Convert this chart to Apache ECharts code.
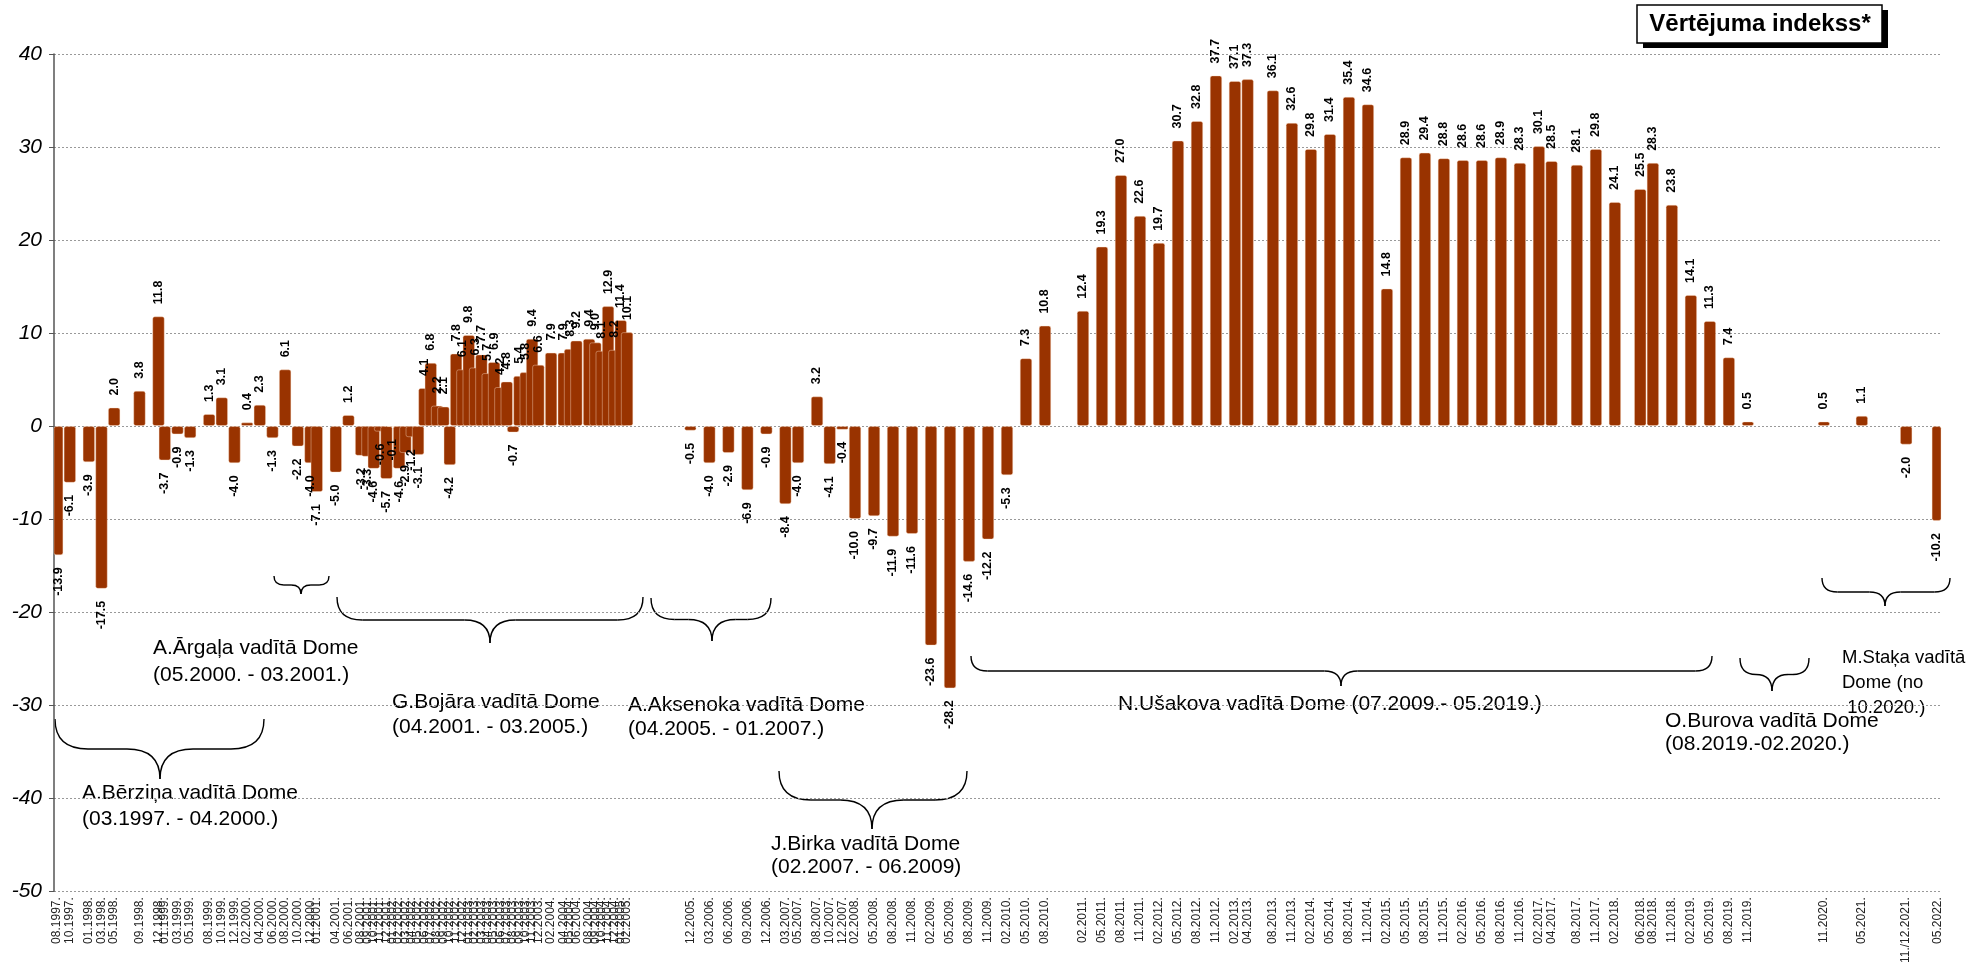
<!DOCTYPE html>
<html>
<head>
<meta charset="utf-8">
<script src="https://cdn.jsdelivr.net/npm/echarts@6/dist/echarts.min.js"></script>
<style>
html,body{margin:0;padding:0;background:#fff;}
#chart{width:1970px;height:966px;}
</style>
</head>
<body>
<div id="chart"></div>
<script>
// ---------------- DATA ----------------
const firstMonth = { year: 1997, month: 8 };
const lastMonth = { year: 2022, month: 5 };

const periods = [
  "08.1997.","10.1997.","01.1998.","03.1998.","05.1998.","09.1998.","12.1998.","01.1999.","03.1999.","05.1999.",
  "08.1999.","10.1999.","12.1999.","02.2000.","04.2000.","06.2000.","08.2000.","10.2000.","12.2000.","01.2001.",
  "04.2001.","06.2001.",
  "08.2001.","09.2001.","10.2001.","11.2001.","12.2001.","01.2002.","02.2002.","03.2002.","04.2002.","05.2002.",
  "06.2002.","07.2002.","08.2002.","09.2002.","10.2002.","11.2002.","12.2002.","01.2003.","02.2003.","03.2003.",
  "04.2003.","05.2003.","06.2003.","07.2003.","08.2003.","09.2003.","10.2003.","11.2003.","12.2003.",
  "02.2004.","04.2004.","05.2004.","06.2004.","08.2004.","09.2004.","10.2004.","11.2004.","12.2004.","01.2005.","02.2005.",
  "12.2005.","03.2006.","06.2006.","09.2006.","12.2006.","03.2007.","05.2007.","08.2007.","10.2007.","12.2007.",
  "02.2008.","05.2008.","08.2008.","11.2008.","02.2009.","05.2009.","08.2009.","11.2009.","02.2010.","05.2010.","08.2010.",
  "02.2011.","05.2011.","08.2011.","11.2011.","02.2012.","05.2012.","08.2012.","11.2012.","02.2013.","04.2013.",
  "08.2013.","11.2013.","02.2014.","05.2014.","08.2014.","11.2014.","02.2015.","05.2015.","08.2015.","11.2015.",
  "02.2016.","05.2016.","08.2016.","11.2016.","02.2017.","04.2017.","08.2017.","11.2017.","02.2018.","06.2018.",
  "08.2018.","11.2018.","02.2019.","05.2019.","08.2019.","11.2019.","11.2020.","05.2021.","11./12.2021.","05.2022."
];

const values = [
  -13.9,-6.1,-3.9,-17.5,2.0,3.8,11.8,-3.7,-0.9,-1.3,
  1.3,3.1,-4.0,0.4,2.3,-1.3,6.1,-2.2,-4.0,-7.1,
  -5.0,1.2,
  -3.2,-3.3,-4.6,-0.6,-5.7,-0.1,-4.6,-2.9,-1.2,-3.1,
  4.1,6.8,2.2,2.1,-4.2,7.8,6.1,9.8,6.3,7.7,
  5.7,6.9,4.2,4.8,-0.7,5.4,5.8,9.4,6.6,
  7.9,7.9,8.3,9.2,9.4,9.0,8.1,12.9,8.2,11.4,10.1,
  -0.5,-4.0,-2.9,-6.9,-0.9,-8.4,-4.0,3.2,-4.1,-0.4,
  -10.0,-9.7,-11.9,-11.6,-23.6,-28.2,-14.6,-12.2,-5.3,7.3,10.8,
  12.4,19.3,27.0,22.6,19.7,30.7,32.8,37.7,37.1,37.3,
  36.1,32.6,29.8,31.4,35.4,34.6,14.8,28.9,29.4,28.8,
  28.6,28.6,28.9,28.3,30.1,28.5,28.1,29.8,24.1,25.5,
  28.3,23.8,14.1,11.3,7.4,0.5,0.5,1.1,-2.0,-10.2
];

const yTicks = { min: -50, max: 40, interval: 10 };
const titleText = "Vērtējuma indekss*";

// annotation texts (Latvian) with their brace/text layout
const annotations = [
  { lines: ["A.Bērziņa vadītā Dome", "(03.1997. - 04.2000.)"], brace: [55, 264, 160, 719, 779], text: [82, 793, 26] },
  { lines: ["A.Ārgaļa vadītā Dome", "(05.2000. - 03.2001.)"], brace: [274, 329, 301, 576, 594], text: [153, 648, 27] },
  { lines: ["G.Bojāra vadītā Dome", "(04.2001. - 03.2005.)"], brace: [337, 643, 490, 597, 643], text: [392, 702, 25] },
  { lines: ["A.Aksenoka vadītā Dome", "(04.2005. - 01.2007.)"], brace: [651, 771, 712, 598, 641], text: [628, 705, 24] },
  { lines: ["J.Birka vadītā Dome", "(02.2007. - 06.2009)"], brace: [779, 967, 872, 771, 829], text: [771, 844, 23] },
  { lines: ["N.Ušakova vadītā Dome (07.2009.- 05.2019.)"], brace: [971, 1712, 1341, 656, 686], text: [1118, 704, 26] },
  { lines: ["O.Burova vadītā Dome", "(08.2019.-02.2020.)"], brace: [1740, 1809, 1772, 658, 691], text: [1665, 721, 23] },
  { lines: ["M.Staķa vadītā", "Dome (no", " 10.2020.)"], brace: [1822, 1950, 1885, 578, 606], text: [1842, 658, 25], size: 18.5 }
];

// ---------------- BUILD ----------------
function monthIndex(y, m) { return (y - firstMonth.year) * 12 + (m - firstMonth.month); }
const nCats = monthIndex(lastMonth.year, lastMonth.month) + 1;
const categories = [];
for (let i = 0; i < nCats; i++) {
  const t = firstMonth.month - 1 + i;
  const y = firstMonth.year + Math.floor(t / 12);
  const m = (t % 12) + 1;
  categories.push((m < 10 ? '0' : '') + m + '.' + y);
}
const labelAt = {};
const seriesData = new Array(nCats).fill(null);
periods.forEach((p, k) => {
  const mt = p.match(/(\d{2})\.(\d{4})\.$/);
  const idx = monthIndex(+mt[2], +mt[1]);
  labelAt[idx] = p;
  const v = values[k];
  seriesData[idx] = {
    value: v,
    label: v >= 0
      ? { position: 'top', align: 'left' }
      : { position: 'bottom', align: 'right' }
  };
});

const FONT = 'Arial, "Liberation Sans", sans-serif';
const chart = echarts.init(document.getElementById('chart'), null, { renderer: 'canvas' });

const graphics = [];
function braceEls(x0, x1, xm, top, tip) {
  const mid = (top + tip) / 2;
  const rx = Math.min((tip - top) * 0.55, (xm - x0) / 2, (x1 - xm) / 2);
  const st = { stroke: '#000', lineWidth: 1.4, fill: 'none' };
  return [
    { type: 'bezierCurve', shape: { x1: x0, y1: top, cpx1: x0, cpy1: mid, x2: x0 + rx, y2: mid }, style: st },
    { type: 'line', shape: { x1: x0 + rx, y1: mid, x2: xm - rx, y2: mid }, style: st },
    { type: 'bezierCurve', shape: { x1: xm - rx, y1: mid, cpx1: xm, cpy1: mid, x2: xm, y2: tip }, style: st },
    { type: 'bezierCurve', shape: { x1: xm, y1: tip, cpx1: xm, cpy1: mid, x2: xm + rx, y2: mid }, style: st },
    { type: 'line', shape: { x1: xm + rx, y1: mid, x2: x1 - rx, y2: mid }, style: st },
    { type: 'bezierCurve', shape: { x1: x1 - rx, y1: mid, cpx1: x1, cpy1: mid, x2: x1, y2: top }, style: st }
  ];
}
annotations.forEach(a => {
  graphics.push(...braceEls(...a.brace));
  const [tx, ty, lh] = a.text;
  const fs = a.size || 21;
  a.lines.forEach((ln, i) => {
    graphics.push({
      type: 'text', x: tx, y: ty + i * lh,
      style: { text: ln, fill: '#000', font: fs + 'px ' + FONT,
               align: 'left', verticalAlign: 'middle', textAlign: 'left', textVerticalAlign: 'middle' }
    });
  });
});
// title box with shadow
graphics.push({ type: 'rect', shape: { x: 1643, y: 10, width: 245, height: 38 }, style: { fill: '#000' } });
graphics.push({ type: 'rect', shape: { x: 1637, y: 5, width: 245, height: 38 }, style: { fill: '#fff', stroke: '#000', lineWidth: 1.5 } });
graphics.push({
  type: 'text', x: 1760, y: 24,
  style: { text: titleText, fill: '#000', font: 'bold 24px ' + FONT,
           align: 'center', verticalAlign: 'middle', textAlign: 'center', textVerticalAlign: 'middle' }
});

chart.setOption({
  animation: false,
  backgroundColor: '#fff',
  grid: { left: 54, right: 29, top: 54, bottom: 74, containLabel: false },
  xAxis: {
    type: 'category',
    data: categories,
    boundaryGap: true,
    axisLine: { show: false },
    axisTick: { show: false },
    splitLine: { show: false },
    axisLabel: {
      interval: 0,
      rotate: 90,
      margin: 6,
      fontSize: 12,
      fontFamily: FONT,
      color: '#222',
      formatter: (v, i) => labelAt[i] || ''
    }
  },
  yAxis: {
    type: 'value',
    min: yTicks.min, max: yTicks.max, interval: yTicks.interval,
    axisLine: { show: true, lineStyle: { color: '#555', width: 1.5 } },
    axisTick: { show: true, length: 5, lineStyle: { color: '#555' } },
    axisLabel: { fontSize: 21, fontStyle: 'italic', fontFamily: FONT, color: '#000', margin: 12 },
    splitLine: { show: true, lineStyle: { color: '#999', width: 1, type: [2, 2] } }
  },
  series: [{
    type: 'bar',
    data: seriesData,
    barWidth: 12.5,
    itemStyle: { color: '#993300', borderColor: 'rgba(255,225,200,0.4)', borderWidth: 1, borderRadius: 2 },
    label: {
      show: true,
      rotate: 90,
      verticalAlign: 'middle',
      distance: 12,
      fontSize: 12.5,
      fontWeight: 'bold',
      fontFamily: FONT,
      color: '#000',
      formatter: p => (p.value == null ? '' : Number(p.value).toFixed(1))
    }
  }],
  graphic: { elements: graphics }
});
</script>
</body>
</html>
